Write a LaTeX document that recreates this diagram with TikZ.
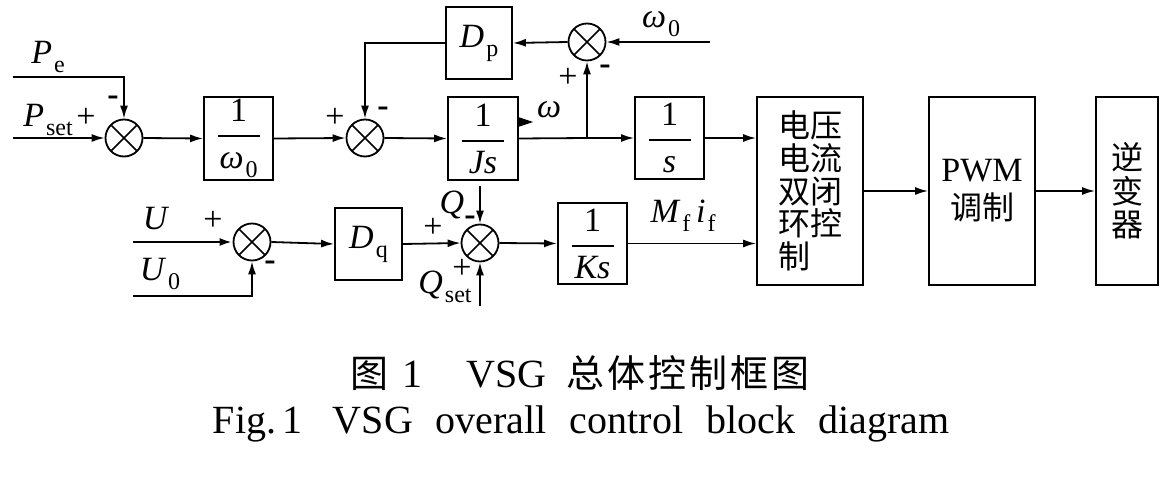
\documentclass[tikz,border=0pt]{standalone}
\usepackage{amsmath}
\usepackage{fontspec}
\setmainfont{Liberation Serif}
\newfontfamily\cjk{Noto Sans CJK SC}
\usetikzlibrary{arrows.meta}

\newcommand{\vsub}[2]{\textit{#1}\kern1pt\raisebox{-4.5pt}{\fontsize{12}{12}\selectfont #2}}
\newcommand{\gainfrac}[2]{$\genfrac{}{}{0.9pt}{0}{\mbox{#1}}{\makebox[21pt]{#2}}$}

\tikzset{
  blockbox/.style={draw,line width=0.9pt,inner sep=0pt},
  sumnode/.style={circle,draw,line width=0.9pt,minimum size=18.5pt,inner sep=0pt,
    path picture={\draw[line width=0.8pt]
      (path picture bounding box.north west)--(path picture bounding box.south east)
      (path picture bounding box.south west)--(path picture bounding box.north east);}},
  sig/.style={line width=0.9pt,-{Latex[length=6.5pt,width=4pt]}},
  signlbl/.style={inner sep=0pt},
}

\begin{document}
\begin{tikzpicture}[x=0.5pt,y=-0.5pt,font=\fontsize{17}{20}\selectfont,line width=0.9pt]
  \useasboundingbox (0,0) rectangle (1172,481);
  % upper loop
  \node[sumnode] (sumP) at (124,138) {};
  \node[blockbox,minimum width=34.5pt,minimum height=41.5pt] (gainW) at (238.5,138.5) {\gainfrac{1}{\vsub{ω}{0}}};
  \node[sumnode] (sumW) at (365,138) {};
  \node[blockbox,minimum width=35pt,minimum height=41.5pt] (gainJ) at (483,138.5) {\gainfrac{1}{\textit{Js}}};
  \node[blockbox,minimum width=33pt,minimum height=36pt] (boxDp) at (479,43) {\vsub{D}{p}};
  \node[sumnode] (sumD) at (587,42) {};
  \node[blockbox,minimum width=34.5pt,minimum height=41pt] (gainS) at (669.5,138) {\gainfrac{1}{\textit{s}}};
  \node[blockbox,minimum width=53pt,minimum height=94pt,align=left,
    font=\cjk\fontsize{16}{16.3}\selectfont] (boxLoop) at (810,191) {电压\\电流\\双闭\\环控\\制};
  \node[blockbox,minimum width=53pt,minimum height=94pt,align=center] (boxPwm) at (982,191)
    {PWM\\[-1pt]{\cjk\fontsize{16}{16}\selectfont 调制}};
  \node[blockbox,minimum width=31pt,minimum height=94pt,align=center,
    font=\cjk\fontsize{16}{16.7}\selectfont] (boxInv) at (1127,191) {逆\\变\\器};
  % lower loop
  \node[sumnode] (sumU) at (252,242) {};
  \node[blockbox,minimum width=33.5pt,minimum height=36pt] (boxDq) at (368.5,244) {\vsub{D}{q}};
  \node[sumnode] (sumQ) at (480,243) {};
  \node[blockbox,minimum width=34.5pt,minimum height=40.5pt] (gainK) at (592.5,243.5) {\gainfrac{1}{\textit{Ks}}};

  \coordinate (inPe) at (13,77);
  \coordinate (inPset) at (13,138);
  \coordinate (inW0) at (710,42);
  \coordinate (branchW) at (587,138);
  \coordinate (inU) at (133,242);
  \coordinate (inU0) at (133,296);
  \coordinate (inQ) at (480,186);
  \coordinate (inQset) at (480,306);

  \draw[sig] (inPe) -| (sumP.north);
  \draw[sig] (inPset) -- (sumP.west);
  \draw[sig] (sumP.east) -- (gainW.west);
  \draw[sig] (gainW.east) -- (sumW.west);
  \draw[sig] (sumW.east) -- (gainJ.west);
  \draw (gainJ.east) -- (branchW);
  \draw[sig] (branchW) -- (gainS.west);
  \draw[sig] (branchW) -- (sumD.south);
  \draw[sig] (inW0) -- (sumD.east);
  \draw[sig] (sumD.west) -- (boxDp.east);
  \draw[sig] (boxDp.west) -| (sumW.north);
  \draw[sig] (gainS.east) -- (gainS.east -| boxLoop.west);
  \draw[sig] (boxLoop.east) -- (boxPwm.west);
  \draw[sig] (boxPwm.east) -- (boxInv.west);
  \draw[sig,line width=1.4pt] (inU) -- (sumU.west);
  \draw[sig] (inU0) -| (sumU.south);
  \draw[sig] (sumU.east) -- (boxDq.west);
  \draw[sig] (boxDq.east) -- (sumQ.west);
  \draw[sig] (inQ) -- (sumQ.north);
  \draw[sig] (inQset) -- (sumQ.south);
  \draw[sig] (sumQ.east) -- (gainK.west);
  \draw[sig] (gainK.east) -- (gainK.east -| boxLoop.west);
  \fill (518,117) -- (533,122) -- (518,127) -- cycle;

  \node (lblPe) at (48,57) {\vsub{P}{e}};
  \node (lblPset) at (48,120) {\vsub{P}{set}};
  \node (lblOmega) at (549,110) {\textit{ω}};
  \node (lblOmega0) at (661,24) {\vsub{ω}{0}};
  \node (lblU) at (156,219) {\textit{U}};
  \node (lblU0) at (160,274) {\vsub{U}{0}};
  \node (lblQ) at (452,205) {\textit{Q}};
  \node (lblQset) at (445,287) {\vsub{Q}{set}};
  \node (lblMi) at (683,216) {\vsub{M}{f}\,\vsub{i}{f}};
  \foreach \nm/\px/\py in {plP/86/118,plW/335/118,plD/568/78,plU/213/221,plDq/433/228,plQ/462/269}
    \node[signlbl] (\nm) at (\px,\py) {+};
  \foreach \nm/\px/\py in {mnP/113/101,mnW/383/112,mnD/605/70,mnU/270/266,mnQ/470/221}
    \node[signlbl] (\nm) at (\px,\py) {\textbf{-}};

  \node[anchor=base west,inner sep=0pt,font=\fontsize{20}{24}\selectfont] (capCn) at (350,387)
    {{\cjk\fontsize{19}{22}\selectfont 图}\hspace{7pt}1\hspace{22pt}VSG\hspace{10pt}{\cjk\fontsize{19}{22}\selectfont\foreach \ch in {总,体,控,制,框,图}{\makebox[20.5pt][l]{\ch}}}};
  \node[anchor=base west,inner sep=0pt,font=\fontsize{20}{24}\selectfont] (capEn) at (212,433)
    {\spaceskip=11.5pt\relax Fig.\,1\hspace{15pt}VSG overall control block diagram};
\end{tikzpicture}
\end{document}
